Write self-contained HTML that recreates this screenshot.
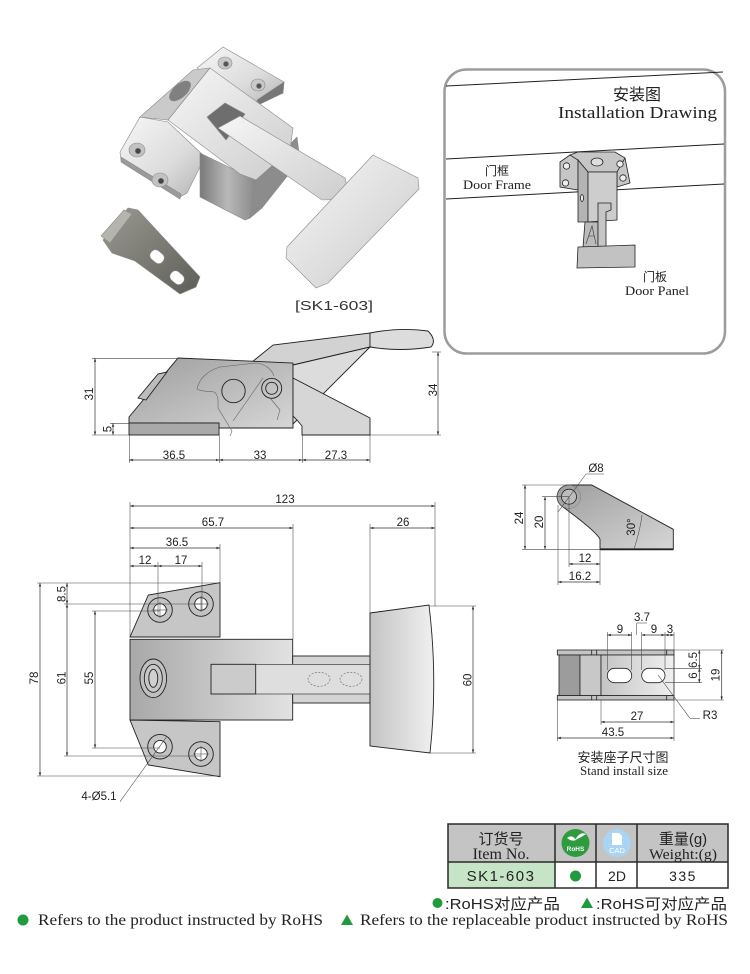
<!DOCTYPE html>
<html><head><meta charset="utf-8"><style>
html,body{margin:0;padding:0;background:#fff}
svg{display:block}
.d{font-family:"Liberation Sans",sans-serif;font-size:11.5px;fill:#222}
.ln{stroke:#333;stroke-width:.7;fill:none}
.ex{stroke:#444;stroke-width:.55;fill:none}
.ol{stroke:#222;stroke-width:.9}
</style></head><body>
<svg width="750" height="974" viewBox="0 0 750 974" xmlns="http://www.w3.org/2000/svg">
<defs>
<marker id="a" viewBox="0 0 10 10" refX="10" refY="5" markerWidth="5" markerHeight="5" orient="auto-start-reverse"><path d="M0,1.5 L10,5 L0,8.5z" fill="#333"/></marker>
<linearGradient id="gB" x1="0" x2="1" y1="0" y2="0"><stop offset="0" stop-color="#a8a8a8"/><stop offset="1" stop-color="#e2e2e2"/></linearGradient>
<linearGradient id="gS" x1="0" x2="1" y1="0" y2="1"><stop offset="0" stop-color="#9e9e9e"/><stop offset="1" stop-color="#d6d6d6"/></linearGradient>
<linearGradient id="gL" x1="0" x2="1" y1="0" y2="0"><stop offset="0" stop-color="#c4c4c4"/><stop offset="1" stop-color="#f0f0f0"/></linearGradient>
<linearGradient id="gM" x1="0" x2="1" y1="0" y2="1"><stop offset="0" stop-color="#f7f7f7"/><stop offset=".6" stop-color="#dcdcdc"/><stop offset="1" stop-color="#b4b4b4"/></linearGradient>
<linearGradient id="gT" x1="0" x2="1" y1="0" y2="1"><stop offset="0" stop-color="#f6f6f6"/><stop offset="1" stop-color="#cdcdcd"/></linearGradient>
<linearGradient id="gD" x1="0" x2="1" y1="0" y2="0"><stop offset="0" stop-color="#7a7a7a"/><stop offset=".5" stop-color="#b8b8b8"/><stop offset="1" stop-color="#8a8a8a"/></linearGradient>
<linearGradient id="gO" x1="0" x2="1" y1="0" y2="1"><stop offset="0" stop-color="#9a9a92"/><stop offset="1" stop-color="#5e5e58"/></linearGradient>
</defs>

<!-- ===== PHOTO ===== -->
<g stroke="#8a8a8a" stroke-width=".6">
<polygon points="197,68 223,47 284,82 283,93 257,104 230,95" fill="url(#gM)"/>
<polygon points="284,82 283,93 258,105 257,100" fill="#777"/>
<ellipse cx="225" cy="63" rx="7" ry="6" fill="#c9c9c9"/><circle cx="226" cy="64" r="2.6" fill="#555"/>
<ellipse cx="258" cy="85" rx="7" ry="6" fill="#c9c9c9"/><circle cx="259" cy="86" r="2.6" fill="#555"/>
<polygon points="120,152 140,117 168,122 203,155 202,163 187,193 180,197 121,160" fill="url(#gM)"/>
<polygon points="121,157 121,162 180,199 181,194" fill="#9a9a9a"/>
<ellipse cx="137" cy="150" rx="8" ry="7" fill="#c2c2c2"/><circle cx="138" cy="151" r="2.8" fill="#444"/>
<ellipse cx="160" cy="180" rx="8" ry="7" fill="#c2c2c2"/><circle cx="161" cy="181" r="2.8" fill="#444"/>
<polygon points="200,153 255,180 250,218 245,220 200,197" fill="url(#gD)"/>
<polygon points="255,180 297,137 300,160 262,208 250,218" fill="#8c8c8c"/>
<polygon points="140,117 193,70 210,68 168,120" fill="#cacaca"/>
<ellipse cx="180" cy="91" rx="13" ry="6.5" transform="rotate(-42 180 91)" fill="#808080"/>
<polygon points="168,120 210,68 293,128 290,150 256,180 240,174" fill="url(#gT)"/>
<polygon points="207,117 225,103 245,114 226,140" fill="#6e6e6e"/>
<polygon points="218,128 240,116 345,178 350,199 322,200" fill="url(#gT)"/>
<polygon points="287,247 373,155 418,178 419,189 328,283 316,288 286,258" fill="url(#gM)"/>
<polygon points="103,240 128,208 138,210 200,277 196,287 180,294 135,261 112,253" fill="url(#gO)"/>
<polygon points="101,236 124,210 132,214 110,243" fill="#b5b5ae"/>
<rect x="150" y="251" width="15" height="11" rx="5" transform="rotate(40 157 256)" fill="#fff"/>
<rect x="170" y="272" width="15" height="11" rx="5" transform="rotate(40 177 277)" fill="#fff"/>
</g>
<text x="295" y="310" font-family="'Liberation Sans',sans-serif" font-size="13" fill="#333" textLength="78" lengthAdjust="spacingAndGlyphs">[SK1-603]</text>

<!-- ===== INSTALLATION BOX ===== -->
<rect x="444.5" y="69.5" width="280.5" height="284" rx="22" fill="#fff" stroke="#9c9c9c" stroke-width="2.5"/>
<g stroke="#222" stroke-width="1">
<line x1="446" y1="86" x2="723" y2="72"/>
<line x1="446" y1="159" x2="724" y2="144"/>
<line x1="446" y1="199" x2="724" y2="184"/>
</g>
<text x="637" y="100" text-anchor="middle" font-family="'Liberation Sans','Noto Sans CJK SC',sans-serif" font-size="16" fill="#222">安装图</text>
<text x="558" y="118" font-family="'Liberation Serif',serif" font-size="17" fill="#222" textLength="159" lengthAdjust="spacingAndGlyphs">Installation Drawing</text>
<text x="497" y="175" text-anchor="middle" font-family="'Liberation Sans','Noto Sans CJK SC',sans-serif" font-size="12" fill="#222">门框</text>
<text x="463" y="189" font-family="'Liberation Serif',serif" font-size="12.5" fill="#222" textLength="68" lengthAdjust="spacingAndGlyphs">Door Frame</text>
<text x="655" y="281" text-anchor="middle" font-family="'Liberation Sans','Noto Sans CJK SC',sans-serif" font-size="12" fill="#222">门板</text>
<text x="625" y="295" font-family="'Liberation Serif',serif" font-size="12.5" fill="#222" textLength="64" lengthAdjust="spacingAndGlyphs">Door Panel</text>
<g stroke="#222" stroke-width=".8" fill="#c6c6c6">
<polygon points="560,162 570,155 578,158 578,190 560,187"/>
<polygon points="617,155 625,158 630,183 617,187"/>
<polygon points="570,155 578,152 615,152 625,158 617,172 588,172 578,160"/>
<polygon points="578,160 588,172 588,222 578,222" fill="#b4b4b4"/>
<polygon points="588,172 617,172 617,220 588,222" fill="#cdcdcd"/>
<polygon points="585,222 598,222 598,247 583,247" fill="#bbb"/>
<polygon points="598,203 611,203 611,210 606,212 606,247 598,247"/>
<polygon points="578,247 635,245 635,267 577,268" fill="#c2c2c2"/>
<ellipse cx="597" cy="162" rx="6" ry="4" fill="#ddd"/>
<circle cx="566.5" cy="166" r="3.2" fill="#eee"/><circle cx="565.5" cy="183" r="3.2" fill="#eee"/>
<circle cx="620" cy="164" r="3.2" fill="#eee"/><circle cx="623" cy="178" r="3.2" fill="#eee"/>
<ellipse cx="582" cy="198" rx="1.5" ry="3.5" fill="#eee"/>
</g>
<path d="M586,244 L592,226 L596,244 M589,236 L594,236" stroke="#333" stroke-width=".6" fill="none"/>

<!-- ===== SIDE VIEW ===== -->
<g class="ol">
<polygon points="252,362 273,345 370,333 370,347 293,365" fill="#d2d2d2"/>
<path d="M370,333 Q400,327 428,331 Q437,340 431,347 Q400,352 370,347 Z" fill="#dcdcdc"/>
<polygon points="129,417 178,358 293,363 293,428 219,428 219,423 129,423" fill="url(#gS)"/>
<rect x="129" y="423" width="90" height="12" fill="#a9a9a9"/>
<polygon points="138,398 158,374 167,372 146,400" fill="#bdbdbd"/>
<polygon points="293,365 370,347 297,420 293,424" fill="#dcdcdc"/>
<polygon points="293,378 370,418 370,435 302,435 302,426 297,420 293,416" fill="#d6d6d6"/>
<circle cx="233.5" cy="391" r="11.7" fill="none"/>
<circle cx="271.7" cy="388.3" r="10" fill="none"/>
<circle cx="271.7" cy="388.3" r="6" fill="none"/>
</g>
<path d="M197,389 C199,379 207,371 220,367 L256,363 C266,364 272,370 274,376 M197,389 C201,392 209,391 214,392 C219,395 218,402 218,408 L232,431 L230,436 M263,378 L233,421 M270,398 L280,410 L277,420" stroke="#666" stroke-width=".6" fill="none"/>
<g class="ex">
<line x1="92" y1="358.3" x2="178" y2="358.3"/><line x1="92" y1="435" x2="129" y2="435"/>
<line x1="110" y1="423.3" x2="129" y2="423.3"/>
<line x1="432" y1="352" x2="441" y2="352"/><line x1="370" y1="435" x2="441" y2="435"/>
<line x1="129.3" y1="435" x2="129.3" y2="463"/><line x1="219.3" y1="435" x2="219.3" y2="463"/>
<line x1="302.3" y1="435" x2="302.3" y2="463"/><line x1="370" y1="435" x2="370" y2="463"/>
</g>
<g class="ln" marker-start="url(#a)" marker-end="url(#a)">
<line x1="95" y1="358.3" x2="95" y2="435"/>
<line x1="113" y1="423.3" x2="113" y2="435"/>
<line x1="438" y1="352" x2="438" y2="435"/>
<line x1="129.3" y1="460" x2="219.3" y2="460"/>
<line x1="219.3" y1="460" x2="302.3" y2="460"/>
<line x1="302.3" y1="460" x2="370" y2="460"/>
</g>
<g class="d" text-anchor="middle">
<text transform="translate(93,394) rotate(-90)">31</text>
<text transform="translate(111.5,429) rotate(-90)">5</text>
<text transform="translate(437,390) rotate(-90)">34</text>
<text x="174" y="459">36.5</text><text x="260" y="459">33</text><text x="336" y="459">27.3</text>
</g>

<!-- ===== TOP VIEW ===== -->
<g class="ol">
<polygon points="130,637 148.3,595 220,582.7 220,637" fill="#c6c6c6"/>
<polygon points="130,720 148.3,765 220,776.7 220,721.7" fill="#c6c6c6"/>
<rect x="130" y="639.3" width="162.7" height="80.7" fill="url(#gB)"/>
<rect x="292.7" y="656" width="77.3" height="47" fill="#d4d4d4"/>
<rect x="255.7" y="664.3" width="114.3" height="29.7" fill="#dedede" stroke-width=".6"/>
<rect x="211" y="664.3" width="44.7" height="29.7" fill="#cbcbcb"/>
<path d="M370,613 L429,605 Q438,680 430,753 L370,746 Z" fill="url(#gL)"/>
<ellipse cx="153.3" cy="678.3" rx="13.3" ry="19.3" fill="#c0c0c0"/>
<ellipse cx="153.3" cy="678.3" rx="9" ry="14" fill="#c8c8c8"/>
<ellipse cx="153.3" cy="678.3" rx="4.5" ry="9" fill="#d0d0d0"/>
</g>
<g stroke="#666" stroke-width=".6" stroke-dasharray="2,1.5" fill="none">
<ellipse cx="319" cy="679.3" rx="11" ry="7"/><ellipse cx="351" cy="679.3" rx="11" ry="7"/>
</g>
<g stroke="#222" stroke-width=".9">
<circle cx="160" cy="610" r="12.3" fill="#c2c2c2"/><circle cx="160" cy="610" r="6.3" fill="#fff"/>
<circle cx="201" cy="604" r="12.3" fill="#c2c2c2"/><circle cx="201" cy="604" r="6.3" fill="#fff"/>
<circle cx="160" cy="746.7" r="12.3" fill="#c2c2c2"/><circle cx="160" cy="746.7" r="6.3" fill="#fff"/>
<circle cx="201" cy="754" r="12.3" fill="#c2c2c2"/><circle cx="201" cy="754" r="6.3" fill="#fff"/>
</g>
<g class="ex">
<line x1="130" y1="502" x2="130" y2="637"/><line x1="158" y1="562" x2="158" y2="616"/>
<line x1="202" y1="562" x2="202" y2="610"/><line x1="220" y1="544" x2="220" y2="583"/>
<line x1="293" y1="524" x2="293" y2="639"/><line x1="370" y1="524" x2="370" y2="613"/>
<line x1="435" y1="502" x2="435" y2="606"/>
<line x1="37" y1="583" x2="220" y2="583"/><line x1="64" y1="604" x2="201" y2="604"/>
<line x1="92" y1="611" x2="160" y2="611"/><line x1="92" y1="748" x2="160" y2="748"/>
<line x1="64" y1="756" x2="201" y2="756"/><line x1="37" y1="776" x2="220" y2="776"/>
<line x1="429" y1="606" x2="476" y2="606"/><line x1="430" y1="753" x2="476" y2="753"/>
<line x1="152" y1="610" x2="168" y2="610"/><line x1="160" y1="602" x2="160" y2="618"/>
<line x1="193" y1="604" x2="209" y2="604"/><line x1="201" y1="596" x2="201" y2="612"/>
<line x1="193" y1="754" x2="209" y2="754"/><line x1="201" y1="746" x2="201" y2="762"/>
<line x1="166.7" y1="736.7" x2="120" y2="801.7"/>
</g>
<g class="ln" marker-start="url(#a)" marker-end="url(#a)">
<line x1="130" y1="506" x2="435" y2="506"/>
<line x1="130" y1="528" x2="293" y2="528"/>
<line x1="370" y1="528" x2="435" y2="528"/>
<line x1="130" y1="548" x2="220" y2="548"/>
<line x1="130" y1="566" x2="158" y2="566"/>
<line x1="158" y1="566" x2="202" y2="566"/>
<line x1="40" y1="583" x2="40" y2="776"/>
<line x1="67" y1="583" x2="67" y2="604"/>
<line x1="67" y1="604" x2="67" y2="756"/>
<line x1="95" y1="611" x2="95" y2="748"/>
<line x1="473" y1="606" x2="473" y2="753"/>
</g>
<g class="d" text-anchor="middle">
<text x="285" y="503">123</text><text x="213" y="526">65.7</text><text x="403" y="526">26</text>
<text x="177" y="546">36.5</text><text x="145" y="564">12</text><text x="181" y="564">17</text>
<text transform="translate(38,678) rotate(-90)">78</text>
<text transform="translate(65.5,594) rotate(-90)">8.5</text>
<text transform="translate(65.5,678) rotate(-90)">61</text>
<text transform="translate(93,678) rotate(-90)">55</text>
<text transform="translate(471.5,680) rotate(-90)">60</text>
<text x="99" y="800">4-Ø5.1</text>
</g>

<!-- ===== SMALL PART ===== -->
<path d="M569,485 L591.7,485 L673.3,529.3 L673.3,549.3 L600,549.3 L600,539.3 Q597,532 561.7,506 A11.7,11.7 0 0 1 569,485 Z" fill="url(#gS)" stroke="#222" stroke-width=".9"/>
<line x1="600" y1="549.3" x2="673.3" y2="549.3" stroke="#222" stroke-width="1.8"/>
<circle cx="569" cy="496.7" r="7.5" fill="#bdbdbd" stroke="#222" stroke-width=".8"/>
<circle cx="569" cy="496.7" r="11.7" fill="none" stroke="#777" stroke-width=".5"/>
<path d="M634,549 Q640,531 642,515" class="ex"/>
<g class="ex">
<line x1="522" y1="485" x2="569" y2="485"/><line x1="522" y1="549.3" x2="600" y2="549.3"/>
<line x1="542" y1="496.7" x2="569" y2="496.7"/>
<line x1="569" y1="497" x2="569" y2="567"/><line x1="600" y1="549" x2="600" y2="585"/>
<line x1="558" y1="505" x2="558" y2="585"/>
<line x1="586" y1="474" x2="604" y2="474"/><line x1="586" y1="474" x2="558" y2="512"/>
</g>
<g class="ln" marker-start="url(#a)" marker-end="url(#a)">
<line x1="525" y1="485" x2="525" y2="549.3"/>
<line x1="545" y1="496.7" x2="545" y2="549.3"/>
<line x1="569" y1="564" x2="600" y2="564"/>
<line x1="558" y1="582" x2="600" y2="582"/>
</g>
<g class="d" text-anchor="middle">
<text x="596" y="472">Ø8</text>
<text transform="translate(523,518) rotate(-90)">24</text>
<text transform="translate(543,522) rotate(-90)">20</text>
<text transform="translate(635,527) rotate(-90)">30°</text>
<text x="585" y="562">12</text><text x="580" y="580">16.2</text>
</g>

<!-- ===== STAND ===== -->
<g stroke="#222" stroke-width=".8">
<rect x="557.3" y="650" width="116.7" height="5" fill="#c4c4c4"/>
<rect x="557.3" y="695.5" width="116.7" height="4.5" fill="#c4c4c4"/>
<rect x="559" y="655" width="21" height="40.5" fill="#9c9c9c"/>
<rect x="580" y="655" width="21" height="40.5" fill="#c8c8c8"/>
<rect x="601" y="655" width="73" height="40.5" fill="url(#gL)"/>
<rect x="607.3" y="668.3" width="24.4" height="14.4" rx="7.2" fill="#fff"/>
<rect x="641.7" y="668.3" width="23.3" height="14.4" rx="7.2" fill="#fff"/>
<line x1="591.7" y1="650" x2="591.7" y2="655"/><line x1="596.7" y1="650" x2="596.7" y2="655"/>
<line x1="591.7" y1="695.5" x2="591.7" y2="700"/><line x1="596.7" y1="695.5" x2="596.7" y2="700"/>
<line x1="666.7" y1="650" x2="666.7" y2="655"/><line x1="666.7" y1="695.5" x2="666.7" y2="700"/>
</g>
<g class="ex">
<line x1="607.3" y1="632" x2="607.3" y2="670"/><line x1="631.7" y1="632" x2="631.7" y2="670"/>
<line x1="641.7" y1="632" x2="641.7" y2="670"/><line x1="665" y1="632" x2="665" y2="670"/>
<line x1="674" y1="632" x2="674" y2="650"/>
<line x1="636.7" y1="623" x2="636.7" y2="635"/><line x1="636.7" y1="623" x2="647" y2="623"/>
<line x1="674" y1="650" x2="724" y2="650"/><line x1="665" y1="668.3" x2="702" y2="668.3"/>
<line x1="665" y1="682.7" x2="702" y2="682.7"/><line x1="674" y1="700" x2="724" y2="700"/>
<line x1="601" y1="700" x2="601" y2="725"/><line x1="674" y1="700" x2="674" y2="741"/>
<line x1="557.3" y1="700" x2="557.3" y2="741"/>
<line x1="658" y1="675" x2="690" y2="718.3"/><line x1="690" y1="718.3" x2="700" y2="718.3"/>
</g>
<g class="ln" marker-start="url(#a)" marker-end="url(#a)">
<line x1="607.3" y1="635" x2="631.7" y2="635"/>
<line x1="641.7" y1="635" x2="665" y2="635"/>
<line x1="665" y1="635" x2="674" y2="635"/>
<line x1="699.3" y1="650" x2="699.3" y2="668.3"/>
<line x1="699.3" y1="668.3" x2="699.3" y2="682.7"/>
<line x1="721.7" y1="650" x2="721.7" y2="700"/>
<line x1="601" y1="722" x2="674" y2="722"/>
<line x1="557.3" y1="738" x2="674" y2="738"/>
</g>
<g class="d" text-anchor="middle">
<text x="620" y="633">9</text><text x="642" y="621">3.7</text><text x="654" y="633">9</text><text x="670" y="633">3</text>
<text transform="translate(697,660) rotate(-90)">6.5</text>
<text transform="translate(697,675.5) rotate(-90)">6</text>
<text transform="translate(719.5,675) rotate(-90)">19</text>
<text x="637" y="720">27</text><text x="613" y="736">43.5</text>
<text x="710" y="719">R3</text>
</g>
<text x="623" y="762" text-anchor="middle" font-family="'Liberation Sans','Noto Sans CJK SC',sans-serif" font-size="13" fill="#222">安装座子尺寸图</text>
<text x="580" y="775" font-family="'Liberation Serif',serif" font-size="13" fill="#222" textLength="88" lengthAdjust="spacingAndGlyphs">Stand install size</text>

<!-- ===== TABLE ===== -->
<rect x="448" y="824" width="280" height="38" fill="#c4c4c4"/>
<rect x="448" y="862" width="107" height="26" fill="#c6e4c6"/>
<g stroke="#2a2a2a" stroke-width="1.5" fill="none">
<rect x="448" y="824" width="280" height="64"/>
<line x1="448" y1="862" x2="728" y2="862"/>
<line x1="555" y1="824" x2="555" y2="888"/><line x1="596" y1="824" x2="596" y2="888"/><line x1="637" y1="824" x2="637" y2="888"/>
</g>
<text x="501" y="844" text-anchor="middle" font-family="'Liberation Sans','Noto Sans CJK SC',sans-serif" font-size="15" fill="#222">订货号</text>
<text x="501" y="859" text-anchor="middle" font-family="'Liberation Serif',serif" font-size="16" fill="#222">Item No.</text>
<text x="683" y="844" text-anchor="middle" font-family="'Liberation Sans','Noto Sans CJK SC',sans-serif" font-size="15" fill="#222">重量(g)</text>
<text x="683" y="859" text-anchor="middle" font-family="'Liberation Serif',serif" font-size="15" fill="#222" textLength="68" lengthAdjust="spacingAndGlyphs">Weight:(g)</text>
<circle cx="575.5" cy="843" r="14" fill="#2e9b3e"/>
<path d="M567,838 Q572,834 576,840 Q572,842 567,838 Z M575,840 Q580,831 586,834 Q580,838 575,840 Z" fill="#fff"/>
<text x="575.5" y="851" text-anchor="middle" font-family="'Liberation Sans',sans-serif" font-size="6.5" font-weight="bold" fill="#fff">RoHS</text>
<circle cx="617" cy="843" r="14" fill="#a9d5f2"/>
<path d="M612,833 L619,833 L622,836 L622,845 L612,845 Z" fill="#fff"/>
<text x="617" y="853" text-anchor="middle" font-family="'Liberation Sans',sans-serif" font-size="7.5" fill="#fff">CAD</text>
<text x="501" y="881" text-anchor="middle" font-family="'Liberation Sans',sans-serif" font-size="15" fill="#222" letter-spacing="1.5">SK1-603</text>
<circle cx="575.5" cy="876" r="5.5" fill="#1f9a3c"/>
<text x="617" y="881" text-anchor="middle" font-family="'Liberation Sans',sans-serif" font-size="14" fill="#222">2D</text>
<text x="683" y="881" text-anchor="middle" font-family="'Liberation Sans',sans-serif" font-size="14" fill="#222" letter-spacing="1.5">335</text>

<!-- ===== LEGEND ===== -->
<circle cx="437.5" cy="903" r="5" fill="#1f9a3c"/>
<text x="445" y="909" font-family="'Liberation Sans','Noto Sans CJK SC',sans-serif" font-size="15" fill="#222" textLength="115" lengthAdjust="spacingAndGlyphs">:RoHS对应产品</text>
<polygon points="587,897.5 593,908 581,908" fill="#1f9a3c"/>
<text x="596" y="909" font-family="'Liberation Sans','Noto Sans CJK SC',sans-serif" font-size="15" fill="#222" textLength="131" lengthAdjust="spacingAndGlyphs">:RoHS可对应产品</text>
<circle cx="23" cy="920" r="5.5" fill="#1f9a3c"/>
<text x="38" y="925" font-family="'Liberation Serif',serif" font-size="16" fill="#222" textLength="285" lengthAdjust="spacingAndGlyphs">Refers to the product instructed by RoHS</text>
<polygon points="347,914.5 353,925 341,925" fill="#1f9a3c"/>
<text x="360" y="925" font-family="'Liberation Serif',serif" font-size="16" fill="#222" textLength="368" lengthAdjust="spacingAndGlyphs">Refers to the replaceable product instructed by RoHS</text>
</svg>
</body></html>
